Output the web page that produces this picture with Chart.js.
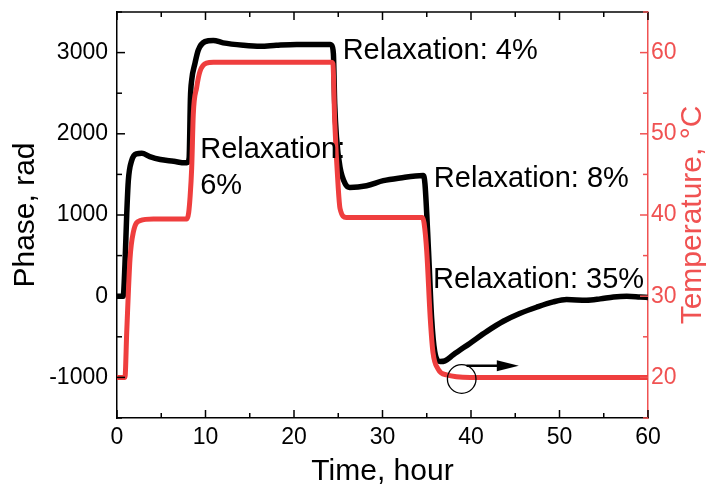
<!DOCTYPE html>
<html>
<head>
<meta charset="utf-8">
<script src="https://cdn.jsdelivr.net/npm/chart.js@4.4.1/dist/chart.umd.min.js"></script>
<style>
  body { margin: 0; background: #fff; }
  canvas { display: block; }
</style>
</head>
<body>
<canvas id="myChart" width="706" height="490"></canvas>
<script>
// phase response (rad) vs time (hour)
const tPhase = [0, 0.7, 0.9, 1.1, 1.28, 1.66, 2.2, 2.8, 3.7, 4.9,
    6.4, 7.7, 7.95, 8.15, 8.3, 8.44, 8.81, 9.19, 9.94, 10.88,
    12.0, 14.3, 16.2, 18.0, 20.3, 22.6, 24.1, 24.25, 24.45, 24.6,
    24.8, 25.2, 25.8, 26.3, 28.2, 30.1, 32.0, 34.6, 34.8, 35.2,
    35.55, 35.9, 36.5, 37.06, 38.0, 39.9, 41.8, 43.65, 45.5, 47.4,
    49.3, 50.8, 53.05, 54.6, 56.1, 57.6, 59.1, 60];
const phase = [0, 0, 392, 1011, 1423, 1671, 1754, 1761, 1720, 1683,
    1662, 1642, 1645, 1700, 2450, 2661, 2868, 3032, 3135, 3150,
    3120, 3090, 3078, 3090, 3100, 3100, 3100, 3090, 2988, 2370,
    1959, 1588, 1382, 1340, 1361, 1423, 1456, 1485, 1382, 557,
    -268, -680, -804, -796, -722, -578, -433, -309, -214, -136,
    -70, -41, -50, -33, -9, 0, -9, -15];

// temperature (°C) vs time (hour)
const tTemp = [0, 0.9, 1.1, 1.47, 1.85, 2.6, 4.1, 7.9, 8.1, 8.25,
    8.44, 8.62, 9.0, 9.38, 10.1, 10.9, 12, 24.2, 24.4, 24.6,
    25.0, 25.2, 25.9, 27, 34.5, 34.7, 35.0, 35.4, 35.7, 36.3,
    37.25, 39.9, 60];
const temp = [20, 20, 25.6, 34.6, 37.9, 39.3, 39.5, 39.5, 40.3, 42.1,
    45.8, 52.4, 55.7, 57.7, 58.7, 58.8, 58.8, 58.8, 58.6, 51.6,
    43.3, 40.8, 39.7, 39.7, 39.7, 39.0, 35.5, 27.2, 23.1, 21.0,
    20.3, 20.0, 20.0];

const timeTicks = [0, 10, 20, 30, 40, 50, 60];
const phaseTicks = [-1000, 0, 1000, 2000, 3000];
const tempTicks = [20, 30, 40, 50, 60];

const RED = '#ef3e3e';
const AXIS_RED = '#f05252';
const FONT = "'Liberation Sans', Arial, sans-serif";

const midpoints = arr => arr.slice(1).map((v, i) => (v + arr[i]) / 2);

// ticks pointing into the plot on all four sides, plus the top frame line
const insideTicks = {
    id: 'insideTicks',
    afterDraw(chart) {
        const { ctx, chartArea: a, scales } = chart;
        const line = (x1, y1, x2, y2) => {
            ctx.beginPath();
            ctx.moveTo(x1, y1);
            ctx.lineTo(x2, y2);
            ctx.stroke();
        };
        ctx.save();
        ctx.lineWidth = 1.5;
        ctx.strokeStyle = '#000';
        line(a.left, a.top, a.right, a.top);

        timeTicks.forEach(v => {
            const x = scales.x.getPixelForValue(v);
            line(x, a.bottom, x, a.bottom - 8);
            line(x, a.top, x, a.top + 8);
        });
        midpoints(timeTicks).forEach(v => {
            const x = scales.x.getPixelForValue(v);
            line(x, a.bottom, x, a.bottom - 5);
            line(x, a.top, x, a.top + 5);
        });
        phaseTicks.forEach(v => {
            const y = scales.y.getPixelForValue(v);
            line(a.left, y, a.left + 8, y);
        });
        midpoints([-2000].concat(phaseTicks, [4000])).forEach(v => {
            const y = scales.y.getPixelForValue(v);
            line(a.left, y, a.left + 5, y);
        });

        ctx.strokeStyle = AXIS_RED;
        tempTicks.forEach(v => {
            const y = scales.y1.getPixelForValue(v);
            line(a.right, y, a.right - 8, y);
        });
        midpoints([10].concat(tempTicks, [70])).forEach(v => {
            const y = scales.y1.getPixelForValue(v);
            line(a.right, y, a.right - 5, y);
        });

        // right axis title reads bottom-to-top like the left one
        ctx.translate(693, (a.top + a.bottom) / 2);
        ctx.rotate(-Math.PI / 2);
        ctx.fillStyle = AXIS_RED;
        ctx.font = '30px ' + FONT;
        ctx.textAlign = 'center';
        ctx.textBaseline = 'middle';
        ctx.fillText('Temperature, °C', 0, 0);
        ctx.restore();
    }
};

// relaxation labels, marker circle and arrow pointing to the temperature axis
const notes = {
    id: 'notes',
    afterDatasetsDraw(chart) {
        const { ctx, scales } = chart;
        const x = scales.x, y = scales.y, y1 = scales.y1;
        ctx.save();
        ctx.fillStyle = '#000';
        ctx.font = '29px ' + FONT;
        ctx.textBaseline = 'alphabetic';
        ctx.textAlign = 'left';
        ctx.fillText('Relaxation: 4%', x.getPixelForValue(25.5), y.getPixelForValue(2917));
        ctx.fillText('Relaxation:', x.getPixelForValue(9.4), y.getPixelForValue(1704));
        ctx.fillText('6%', x.getPixelForValue(9.4), y.getPixelForValue(1704) + 36);
        ctx.fillText('Relaxation: 8%', x.getPixelForValue(35.8), y.getPixelForValue(1349));
        ctx.fillText('Relaxation: 35%', x.getPixelForValue(35.7), y.getPixelForValue(103));

        ctx.strokeStyle = '#000';
        ctx.lineWidth = 1.3;
        ctx.beginPath();
        ctx.arc(x.getPixelForValue(38.95), y1.getPixelForValue(19.8), 14.3, 0, Math.PI * 2);
        ctx.stroke();

        const ay = y1.getPixelForValue(21.45);
        const ax0 = x.getPixelForValue(39.5);
        const ax1 = x.getPixelForValue(45.4);
        ctx.lineWidth = 2.5;
        ctx.beginPath();
        ctx.moveTo(ax0, ay);
        ctx.lineTo(ax1 - 18, ay);
        ctx.stroke();
        ctx.beginPath();
        ctx.moveTo(ax1, ay);
        ctx.lineTo(ax1 - 22, ay - 5.5);
        ctx.lineTo(ax1 - 22, ay + 5.5);
        ctx.closePath();
        ctx.fill();
        ctx.restore();
    }
};

// fixed axis sizes so the plot frame sits where it should
const fixWidth = w => s => { s.width = w; s.paddingTop = 0; s.paddingBottom = 0; };

const ctx = document.getElementById('myChart');

new Chart(ctx, {
    type: 'line',
    data: {
        datasets: [
            {
                label: 'Temperature',
                data: tTemp.map((t, i) => ({ x: t, y: temp[i] })),
                yAxisID: 'y1',
                borderColor: RED,
                borderWidth: 5,
                pointRadius: 0,
                fill: false,
                cubicInterpolationMode: 'monotone',
                order: 0
            },
            {
                label: 'Phase',
                data: tPhase.map((t, i) => ({ x: t, y: phase[i] })),
                yAxisID: 'y',
                borderColor: '#000',
                borderWidth: 5.5,
                pointRadius: 0,
                fill: false,
                cubicInterpolationMode: 'monotone',
                order: 1
            }
        ]
    },
    options: {
        responsive: false,
        animation: false,
        layout: { padding: { top: 12, left: 0, right: 0, bottom: 0 } },
        plugins: {
            legend: { display: false },
            tooltip: { enabled: false }
        },
        scales: {
            x: {
                type: 'linear',
                min: 0,
                max: 60,
                afterBuildTicks: s => { s.ticks = timeTicks.map(v => ({ value: v })); },
                afterFit: s => { s.height = 72; s.paddingLeft = 0; s.paddingRight = 0; },
                grid: { display: false, drawTicks: false },
                border: { color: '#000', width: 1.5 },
                ticks: {
                    padding: 6,
                    color: '#000',
                    font: { family: FONT, size: 23 },
                    callback: v => String(v)
                },
                title: {
                    display: true,
                    text: 'Time, hour',
                    color: '#000',
                    font: { family: FONT, size: 30 },
                    padding: { top: 1, bottom: 0 }
                }
            },
            y: {
                position: 'left',
                min: -1500,
                max: 3500,
                afterBuildTicks: s => { s.ticks = phaseTicks.map(v => ({ value: v })); },
                afterFit: fixWidth(117),
                grid: { display: false, drawTicks: false },
                border: { color: '#000', width: 1.5 },
                ticks: {
                    padding: 9,
                    color: '#000',
                    font: { family: FONT, size: 23 },
                    callback: v => String(v)
                },
                title: {
                    display: true,
                    text: 'Phase, rad',
                    color: '#000',
                    font: { family: FONT, size: 30 },
                    padding: { top: 8, bottom: 0 }
                }
            },
            y1: {
                position: 'right',
                min: 15,
                max: 65,
                afterBuildTicks: s => { s.ticks = tempTicks.map(v => ({ value: v })); },
                afterFit: fixWidth(58),
                grid: { display: false, drawTicks: false },
                border: { color: AXIS_RED, width: 1.5 },
                ticks: {
                    padding: 3,
                    color: AXIS_RED,
                    font: { family: FONT, size: 23 },
                    callback: v => String(v)
                },
                title: { display: false }
            }
        }
    },
    plugins: [insideTicks, notes]
});
</script>
</body>
</html>
